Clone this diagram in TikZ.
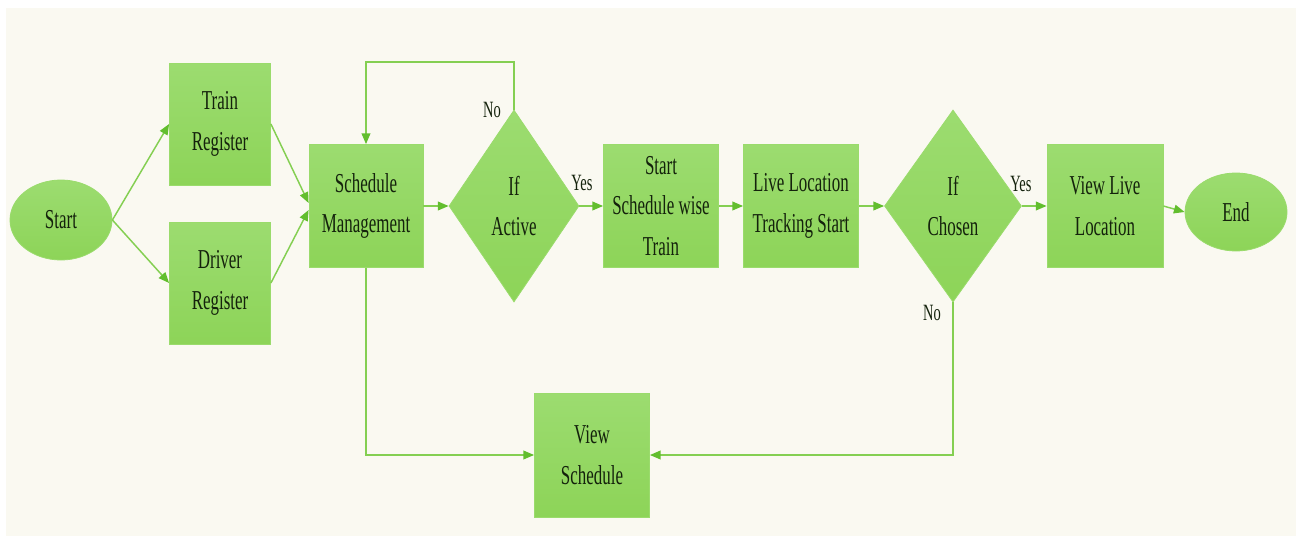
\documentclass[tikz,border=0pt]{standalone}
\usepackage{fontspec}
\setmainfont[FakeStretch=0.62]{Liberation Serif}
\usetikzlibrary{shapes.geometric,arrows.meta,calc}
\definecolor{bgc}{HTML}{FAF9F1}
\definecolor{gtop}{HTML}{9CDC70}
\definecolor{gbot}{HTML}{8DD458}
\definecolor{gedge}{HTML}{9ADB6C}
\definecolor{linec}{HTML}{84CF52}
\definecolor{tipc}{HTML}{62BE2E}
\definecolor{txtc}{HTML}{14220C}
\tikzset{
  base/.style={top color=gtop,bottom color=gbot,draw=gedge,line width=0.6pt,inner sep=0pt,
    text=txtc,align=center,font=\fontsize{20.5}{30.5}\selectfont},
  boxn/.style={base,rectangle},
  decn/.style={base,diamond},
  termn/.style={base,ellipse},
  arr/.style={draw=linec,line width=1.1pt,-{Triangle[length=8pt,width=6.5pt,fill=tipc,color=tipc]}},
  lbl/.style={text=txtc,font=\fontsize{17.5}{19}\selectfont,inner sep=0pt}
}
\begin{document}
\begin{tikzpicture}[x=0.75pt,y=-0.75pt]
\useasboundingbox (0,0) rectangle (1296,539);
\fill[white] (0,0) rectangle (1296,539);
\fill[bgc] (6,8) rectangle (1296,536);
\node[termn,minimum width={102*0.75pt},minimum height={80*0.75pt}] (st) at (61,220) {Start};
\node[boxn,minimum width={101*0.75pt},minimum height={122*0.75pt}] (tr) at (220,124) {Train\\Register};
\node[boxn,minimum width={101*0.75pt},minimum height={122*0.75pt}] (dr) at (220,283) {Driver\\Register};
\node[boxn,minimum width={114*0.75pt},minimum height={123*0.75pt}] (sm) at (366,206) {Schedule\\Management};
\node[decn,minimum width={130*0.75pt},minimum height={192*0.75pt}] (ia) at (514,206) {If\\Active};
\node[boxn,minimum width={115*0.75pt},minimum height={123*0.75pt}] (ss) at (661,206) {Start\\Schedule wise\\Train};
\node[boxn,minimum width={115*0.75pt},minimum height={123*0.75pt}] (ll) at (801,206) {Live Location\\Tracking Start};
\node[decn,minimum width={137*0.75pt},minimum height={192*0.75pt}] (ic) at (953,206) {If\\Chosen};
\node[boxn,minimum width={116*0.75pt},minimum height={123*0.75pt}] (vl) at (1105,206) {View Live\\Location};
\node[termn,minimum width={102*0.75pt},minimum height={78*0.75pt}] (en) at (1236,212) {End};
\node[boxn,minimum width={115*0.75pt},minimum height={124*0.75pt}] (vs) at (592,455) {View\\Schedule};
\coordinate (loopc) at (514,62);
\draw[arr] (st.east) -- (tr.west);
\draw[arr] (st.east) -- (dr.west);
\draw[arr] (tr.east) -- ($(sm.west)+(0,-3)$);
\draw[arr] (dr.east) -- ($(sm.west)+(0,4)$);
\draw[arr] (sm.east) -- (ia.west);
\draw[arr] (ia.north) -- (loopc) -| (sm.north);
\draw[arr] (ia.east) -- (ss.west);
\draw[arr] (ss.east) -- (ll.west);
\draw[arr] (ll.east) -- (ic.west);
\draw[arr] (ic.east) -- (vl.west);
\draw[arr] (vl.east) -- (en.west);
\draw[arr] (ic.south) |- (vs.east);
\draw[arr] (sm.south) |- (vs.west);
\node[lbl] (no1) at (492,110) {No};
\node[lbl] (yes1) at (582,183) {Yes};
\node[lbl] (yes2) at (1021,184) {Yes};
\node[lbl] (no2) at (932,313) {No};
\end{tikzpicture}
\end{document}
